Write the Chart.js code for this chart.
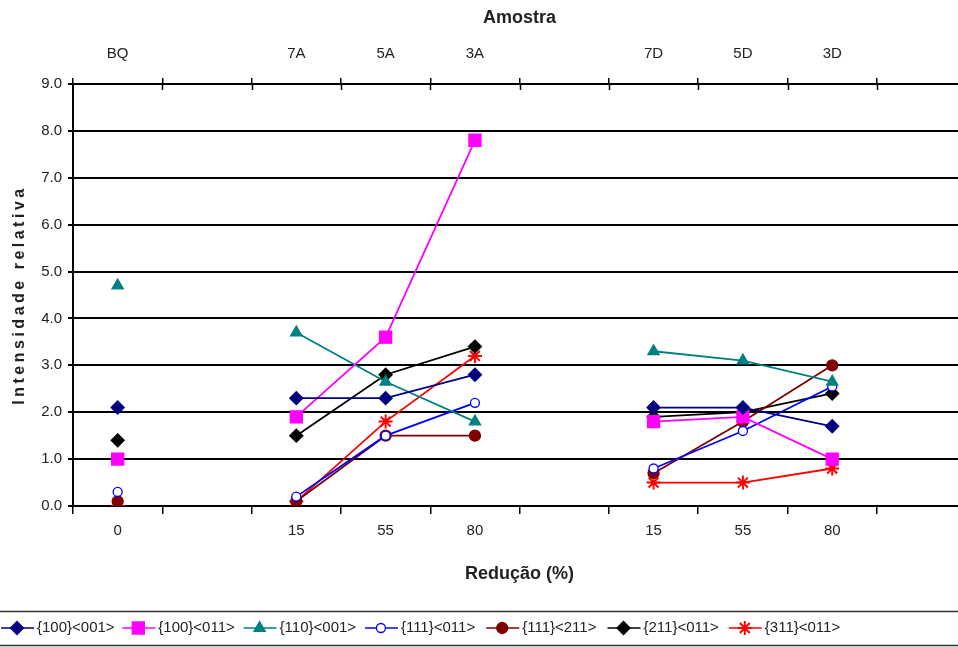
<!DOCTYPE html>
<html>
<head>
<meta charset="utf-8">
<script src="https://cdn.jsdelivr.net/npm/chart.js@4.4.1/dist/chart.umd.min.js"></script>
<style>
  html, body { margin: 0; padding: 0; background: #fff; overflow: hidden; }
  #wrap { position: absolute; left: 0; top: 0; width: 976px; height: 647px; }
</style>
</head>
<body>
<div id="wrap"><canvas id="chart" width="976" height="647"></canvas></div>
<script>
// Categories: reduction (%) below, sample code above (blank slots are spacers)
const reducao  = ['0', '', '15', '55', '80', '', '15', '55', '80', ''];
const amostras = ['BQ', '', '7A', '5A', '3A', '', '7D', '5D', '3D', ''];

// Relative intensity per texture component
const s100_001 = [2.1, null, 2.3, 2.3, 2.8, null, 2.1, 2.1, 1.7, null];
const s100_011 = [1.0, null, 1.9, 3.6, 7.8, null, 1.8, 1.9, 1.0, null];
const s110_001 = [4.7, null, 3.7, 2.65, 1.8, null, 3.3, 3.1, 2.65, null];
const s111_011 = [0.3, null, 0.2, 1.5, 2.2, null, 0.8, 1.6, 2.55, null];
const s111_211 = [0.1, null, 0.1, 1.5, 1.5, null, 0.7, 1.8, 3.0, null];
const s211_011 = [1.4, null, 1.5, 2.8, 3.4, null, 1.9, 2.0, 2.4, null];
const s311_011 = [0.0, null, 0.1, 1.8, 3.2, null, 0.5, 0.5, 0.8, null];

const FONT = "'Liberation Sans', Arial, sans-serif";
Chart.defaults.font.family = FONT;
Chart.defaults.color = '#222';

function serie(label, data, color, style, radius, fill) {
    return {
        label: label,
        data: data,
        borderColor: color,
        borderWidth: 1.8,
        pointStyle: style,
        pointRadius: radius,
        pointBackgroundColor: fill || color,
        pointBorderColor: color,
        pointBorderWidth: style === 'star' ? 2 : 1.3,
        spanGaps: false,
        tension: 0
    };
}

const datasets = [
    serie('{100}<001>', s100_001, '#000080', 'rectRot', 6.5),
    serie('{100}<011>', s100_011, '#FF00FF', 'rect', 8.5),
    serie('{110}<001>', s110_001, '#008080', 'triangle', 6.5),
    serie('{111}<011>', s111_011, '#0000FF', 'circle', 4.5, '#FFFFFF'),
    serie('{111}<211>', s111_211, '#800000', 'circle', 5.5),
    serie('{211}<011>', s211_011, '#000000', 'rectRot', 6.5),
    serie('{311}<011>', s311_011, '#FF0000', 'star', 7)
];

// Legend drawn in the bottom strip, line + marker like the spreadsheet legend
const bottomLegend = {
    id: 'bottomLegend',
    afterDraw(chart) {
        const ctx = chart.ctx;
        ctx.save();
        ctx.strokeStyle = '#333';
        ctx.lineWidth = 1.5;
        ctx.beginPath();
        ctx.moveTo(0, 611.5); ctx.lineTo(chart.width, 611.5);
        ctx.moveTo(0, 645.5); ctx.lineTo(chart.width, 645.5);
        ctx.stroke();

        // top axis ticks cross the axis line
        const top = chart.scales.x2;
        const step = top.getPixelForValue(1) - top.getPixelForValue(0);
        ctx.strokeStyle = '#000';
        ctx.beginPath();
        for (let i = 1; i < amostras.length; i++) {
            const px = Math.round(top.getPixelForValue(i) - step / 2) + 0.5;
            ctx.moveTo(px, top.bottom); ctx.lineTo(px, top.bottom + 6);
        }
        ctx.stroke();

        chart.data.datasets.forEach(function(ds, i) {
            const x0 = 1 + i * 121.3;
            const y = 628;
            ctx.strokeStyle = ds.borderColor;
            ctx.lineWidth = 1.6;
            ctx.beginPath();
            ctx.moveTo(x0, y); ctx.lineTo(x0 + 33, y);
            ctx.stroke();
            ctx.fillStyle = ds.pointBackgroundColor;
            ctx.strokeStyle = ds.pointBorderColor;
            ctx.lineWidth = ds.pointBorderWidth;
            Chart.helpers.drawPoint(ctx, {
                pointStyle: ds.pointStyle,
                radius: ds.pointRadius,
                borderWidth: ds.pointBorderWidth,
                rotation: 0
            }, x0 + 16, y);
            ctx.fillStyle = '#222';
            ctx.font = '15px ' + FONT;
            ctx.textBaseline = 'middle';
            ctx.textAlign = 'left';
            ctx.fillText(ds.label, x0 + 36, y);
        });

        // vertical axis title, letter-spaced
        ctx.translate(20, 295);
        ctx.rotate(-Math.PI / 2);
        ctx.font = 'bold 16px ' + FONT;
        ctx.letterSpacing = '3.5px';
        ctx.fillStyle = '#222';
        ctx.textAlign = 'center';
        ctx.textBaseline = 'middle';
        ctx.fillText('Intensidade relativa', 0, 0);
        ctx.restore();
    }
};

const ctx = document.getElementById('chart').getContext('2d');
const chart = new Chart(ctx, {
    type: 'line',
    data: { labels: reducao, datasets: datasets },
    options: {
        responsive: false,
        animation: false,
        layout: { padding: { left: 0, right: 3, top: 0, bottom: 57 } },
        plugins: {
            legend: { display: false },
            tooltip: { enabled: false }
        },
        scales: {
            x: {
                type: 'category',
                position: 'bottom',
                offset: true,
                grid: { offset: true, drawOnChartArea: false, color: '#000', lineWidth: 1.5, tickLength: 8 },
                border: { color: '#000', width: 2 },
                ticks: { font: { size: 15 }, padding: 8, maxRotation: 0, autoSkip: false },
                title: { display: true, text: 'Redução (%)', font: { size: 18, weight: 'bold' }, padding: { top: 0, bottom: 5 } },
                afterFit(s) { s.height = 84; }
            },
            x2: {
                type: 'category',
                labels: amostras,
                position: 'top',
                offset: true,
                grid: { offset: true, drawOnChartArea: false, color: '#000', lineWidth: 1.5, tickLength: 6 },
                border: { color: '#000', width: 2 },
                ticks: { font: { size: 15 }, padding: 15, maxRotation: 0, autoSkip: false },
                title: { display: true, text: 'Amostra', font: { size: 18, weight: 'bold' }, padding: { top: 7, bottom: 0 } },
                afterFit(s) { s.height = 84; }
            },
            y: {
                min: 0,
                max: 9,
                grid: { color: '#000', lineWidth: 2, tickLength: 5 },
                border: { color: '#000', width: 2 },
                ticks: { stepSize: 1, font: { size: 15 }, padding: 6, callback: v => v.toFixed(1) },
                afterFit(s) { s.width = 73; }
            }
        }
    },
    plugins: [bottomLegend]
});
</script>
</body>
</html>
